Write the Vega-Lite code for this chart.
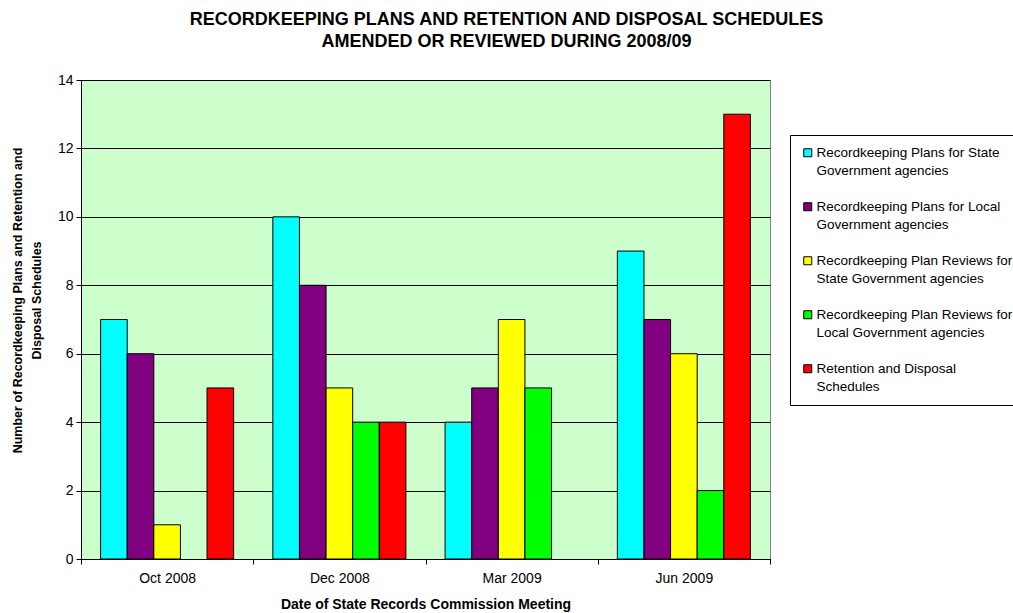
{
  "$schema": "https://vega.github.io/schema/vega-lite/v6.json",
  "autosize": {"type": "none"},
  "padding": {"left": 81, "top": 80, "right": 243, "bottom": 54},
  "width": 689,
  "height": 479,
  "background": "white",
  "title": {
    "text": ["RECORDKEEPING PLANS AND RETENTION AND DISPOSAL SCHEDULES", "AMENDED OR REVIEWED DURING 2008/09"],
    "font": "Liberation Sans",
    "fontSize": 18,
    "fontWeight": "bold",
    "color": "black",
    "anchor": "middle",
    "frame": "group",
    "dx": 81,
    "offset": 22,
    "lineHeight": 22
  },
  "config": {
    "font": "Liberation Sans",
    "view": {"fill": "#CCFFCC", "stroke": "#808080", "strokeWidth": 1}
  },
  "data": {
    "values": [
      {"date": "Oct 2008", "series": "Recordkeeping Plans for State|Government agencies", "value": 7},
      {"date": "Oct 2008", "series": "Recordkeeping Plans for Local|Government agencies", "value": 6},
      {"date": "Oct 2008", "series": "Recordkeeping Plan Reviews for|State Government agencies", "value": 1},
      {"date": "Oct 2008", "series": "Retention and Disposal|Schedules", "value": 5},
      {"date": "Dec 2008", "series": "Recordkeeping Plans for State|Government agencies", "value": 10},
      {"date": "Dec 2008", "series": "Recordkeeping Plans for Local|Government agencies", "value": 8},
      {"date": "Dec 2008", "series": "Recordkeeping Plan Reviews for|State Government agencies", "value": 5},
      {"date": "Dec 2008", "series": "Recordkeeping Plan Reviews for|Local Government agencies", "value": 4},
      {"date": "Dec 2008", "series": "Retention and Disposal|Schedules", "value": 4},
      {"date": "Mar 2009", "series": "Recordkeeping Plans for State|Government agencies", "value": 4},
      {"date": "Mar 2009", "series": "Recordkeeping Plans for Local|Government agencies", "value": 5},
      {"date": "Mar 2009", "series": "Recordkeeping Plan Reviews for|State Government agencies", "value": 7},
      {"date": "Mar 2009", "series": "Recordkeeping Plan Reviews for|Local Government agencies", "value": 5},
      {"date": "Jun 2009", "series": "Recordkeeping Plans for State|Government agencies", "value": 9},
      {"date": "Jun 2009", "series": "Recordkeeping Plans for Local|Government agencies", "value": 7},
      {"date": "Jun 2009", "series": "Recordkeeping Plan Reviews for|State Government agencies", "value": 6},
      {"date": "Jun 2009", "series": "Recordkeeping Plan Reviews for|Local Government agencies", "value": 2},
      {"date": "Jun 2009", "series": "Retention and Disposal|Schedules", "value": 13}
    ]
  },
  "mark": {"type": "bar", "stroke": "black", "strokeWidth": 1},
  "encoding": {
    "x": {
      "field": "date",
      "type": "nominal",
      "sort": ["Oct 2008", "Dec 2008", "Mar 2009", "Jun 2009"],
      "scale": {"paddingInner": 0, "paddingOuter": 0},
      "axis": {
        "title": "Date of State Records Commission Meeting",
        "titleFont": "Liberation Sans",
        "titleFontSize": 14,
        "titleFontWeight": "bold",
        "titleColor": "black",
        "titlePadding": 12,
        "labelAngle": 0,
        "labelFont": "Liberation Sans",
        "labelFontSize": 14,
        "labelColor": "black",
        "labelPadding": 7,
        "tickBand": "extent",
        "ticks": true,
        "tickSize": 5,
        "tickColor": "black",
        "domainColor": "black"
      }
    },
    "xOffset": {
      "field": "series",
      "type": "nominal",
      "scale": {
        "domain": [
          "Recordkeeping Plans for State|Government agencies",
          "Recordkeeping Plans for Local|Government agencies",
          "Recordkeeping Plan Reviews for|State Government agencies",
          "Recordkeeping Plan Reviews for|Local Government agencies",
          "Retention and Disposal|Schedules"
        ],
        "paddingInner": 0,
        "paddingOuter": 0.737
      }
    },
    "y": {
      "field": "value",
      "type": "quantitative",
      "scale": {"domain": [0, 14], "nice": false},
      "axis": {
        "values": [0, 2, 4, 6, 8, 10, 12, 14],
        "title": ["Number of Recordkeeping Plans and Retention and", "Disposal Schedules"],
        "titleFont": "Liberation Sans",
        "titleFontSize": 12.5,
        "titleFontWeight": "bold",
        "titleColor": "black",
        "titlePadding": 14,
        "titleY": 220,
        "titleLineHeight": 19,
        "labelFont": "Liberation Sans",
        "labelFontSize": 14,
        "labelColor": "black",
        "labelPadding": 3,
        "tickColor": "black",
        "tickSize": 5,
        "domainColor": "black",
        "gridColor": "black",
        "gridOpacity": 1,
        "grid": true
      }
    },
    "color": {
      "field": "series",
      "type": "nominal",
      "scale": {
        "domain": [
          "Recordkeeping Plans for State|Government agencies",
          "Recordkeeping Plans for Local|Government agencies",
          "Recordkeeping Plan Reviews for|State Government agencies",
          "Recordkeeping Plan Reviews for|Local Government agencies",
          "Retention and Disposal|Schedules"
        ],
        "range": ["#00FFFF", "#800080", "#FFFF00", "#00FF00", "#FF0000"]
      },
      "legend": {
        "title": null,
        "orient": "none",
        "legendX": 709,
        "legendY": 55,
        "labelExpr": "split(datum.label, '|')",
        "labelFont": "Liberation Sans",
        "labelFontSize": 13.5,
        "labelColor": "black",
        "labelLimit": 300,
        "symbolType": "square",
        "symbolSize": 64,
        "symbolStrokeColor": "black",
        "symbolStrokeWidth": 1,
        "rowPadding": 21,
        "strokeColor": "black",
        "fillColor": "white",
        "padding": 11,
        "labelOffset": 2,
        "encode": {"labels": {"update": {"lineHeight": {"value": 18}}}}
      }
    }
  }
}
